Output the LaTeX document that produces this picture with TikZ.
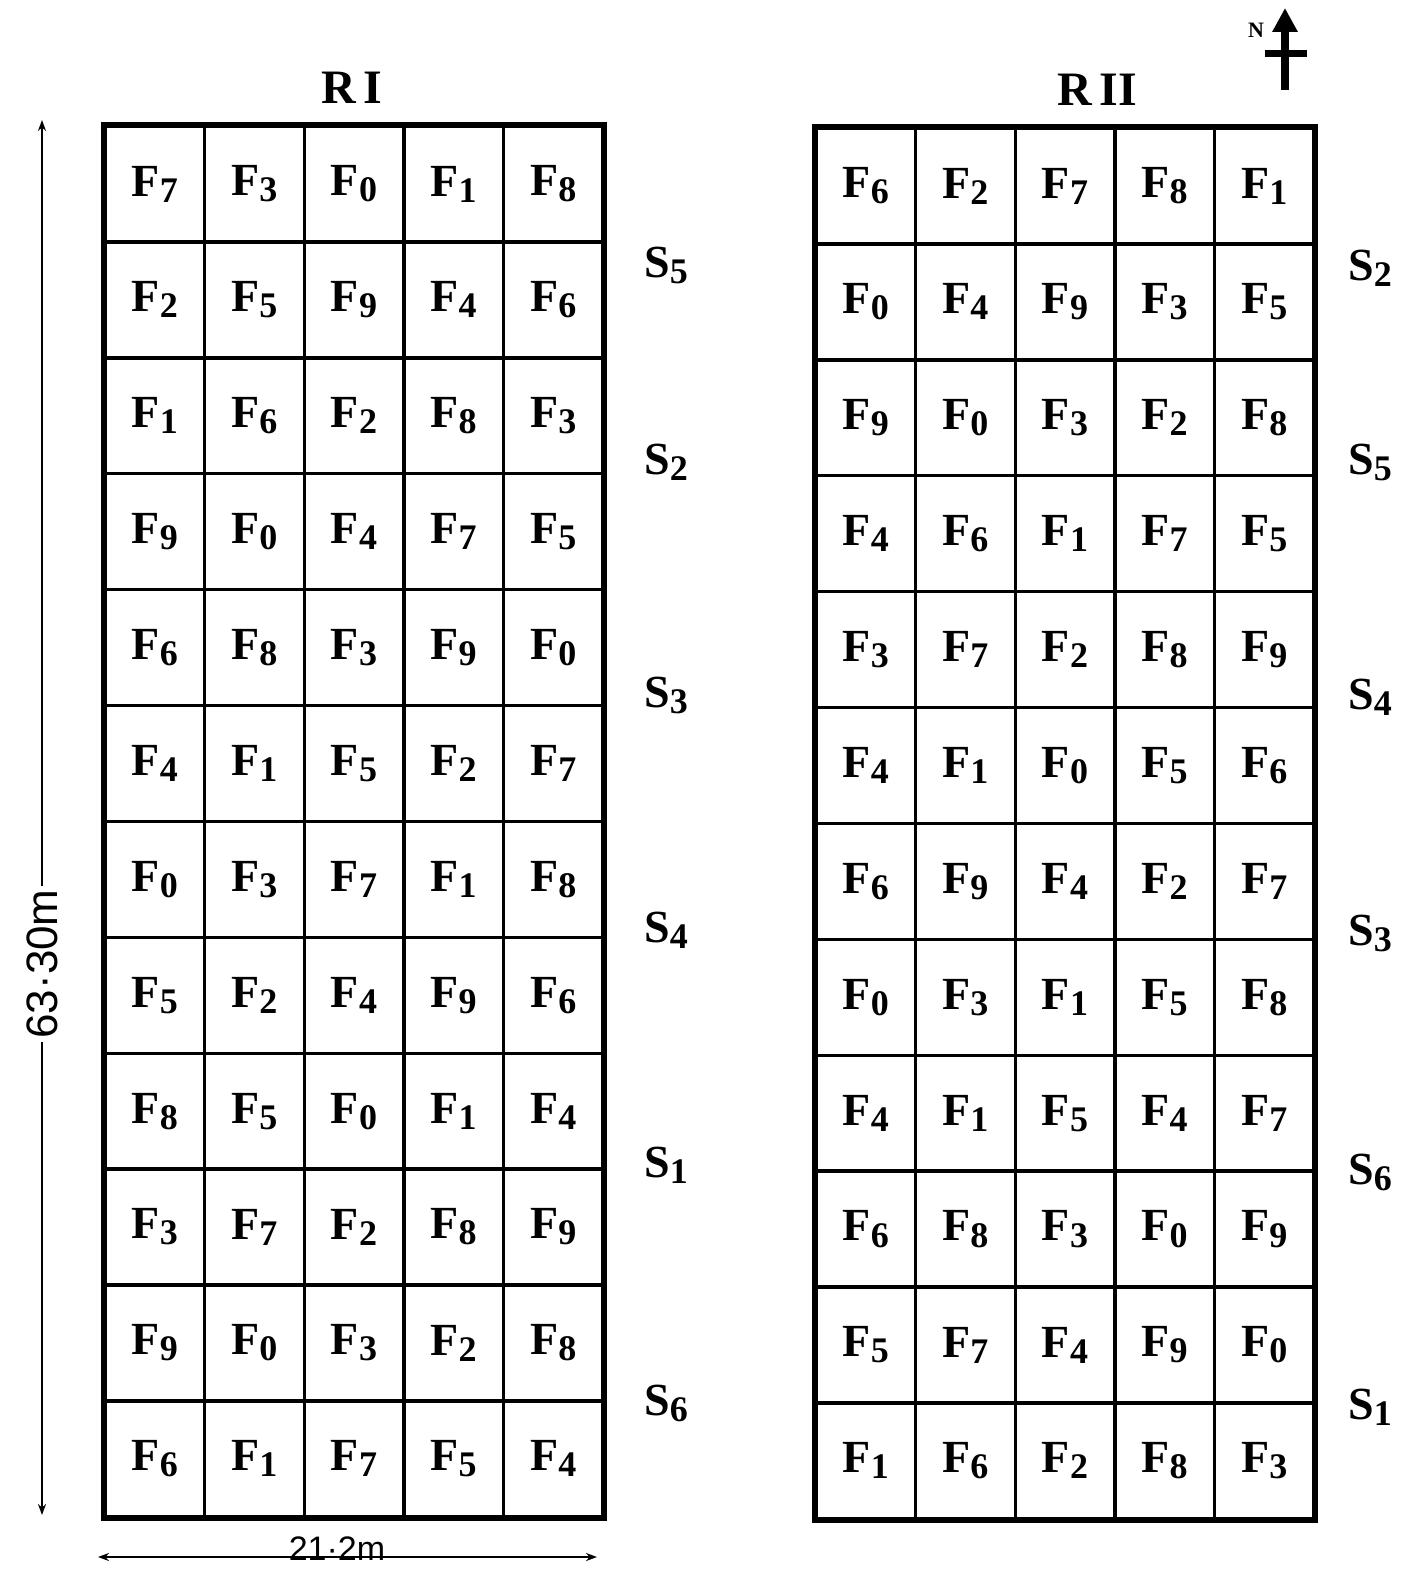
\documentclass[tikz,border=0pt]{standalone}
\usepackage{fontspec}
\setmainfont{Liberation Serif}
\setsansfont{Liberation Sans}
\usetikzlibrary{arrows.meta}
\newcommand{\plotlbl}[2]{#1\lower6pt\hbox{\fontsize{36}{36}\selectfont #2}}

\begin{document}
\begin{tikzpicture}[x=1pt,y=-1pt,
      cell/.style={draw,line width=3.4pt,minimum width=99.6pt,minimum height=115.9pt,
                   inner sep=0pt,font=\fontsize{46}{46}\bfseries\selectfont},
      frame/.style={line width=5pt},
      slbl/.style={font=\fontsize{46}{46}\bfseries\selectfont},
      title/.style={font=\fontsize{48}{48}\bfseries\selectfont},
      dim/.style={line width=2.6pt,{Stealth[length=11pt,width=8pt]}-{Stealth[length=11pt,width=8pt]}},
      dimlbl/.style={font=\fontsize{44}{44}\sffamily\selectfont}]
    \useasboundingbox (0,0) rectangle (1404,1570);
    % replication I
    \def\repa{{7,3,0,1,8, 2,5,9,4,6, 1,6,2,8,3, 9,0,4,7,5, 6,8,3,9,0, 4,1,5,2,7,
                0,3,7,1,8, 5,2,4,9,6, 8,5,0,1,4, 3,7,2,8,9, 9,0,3,2,8, 6,1,7,5,4}}
    % replication II
    \def\repb{{6,2,7,8,1, 0,4,9,3,5, 9,0,3,2,8, 4,6,1,7,5, 3,7,2,8,9, 4,1,0,5,6,
                6,9,4,2,7, 0,3,1,5,8, 4,1,5,4,7, 6,8,3,0,9, 5,7,4,9,0, 1,6,2,8,3}}
    \foreach \r in {0,...,11}
      \foreach \c in {0,...,4} {
        \pgfmathtruncatemacro{\fa}{\repa[\r*5+\c]}
        \pgfmathtruncatemacro{\fb}{\repb[\r*5+\c]}
        \node[cell] (a-\r-\c) at (154.8+\c*99.6,184+\r*115.9) {\plotlbl{F}{\fa}};
        \node[cell] (b-\r-\c) at (865.8+\c*99.6,186+\r*115.9) {\plotlbl{F}{\fb}};
      }
    \draw[frame] (a-0-0.north west) rectangle (a-11-4.south east);
    \draw[frame] (b-0-0.north west) rectangle (b-11-4.south east);
    \node[title] (ra) at (352,88) {R\,I};
    \node[title] (rb) at (1097,90) {R\,II};
    % strips
    \foreach \s/\y [count=\k] in {5/265,2/462,3/695,4/930,1/1165,6/1403}
      \node[slbl] (sa\k) at (666,\y) {\plotlbl{S}{\s}};
    \foreach \s/\y [count=\k] in {2/268,5/462,4/697,3/933,6/1172,1/1407}
      \node[slbl] (sb\k) at (1370,\y) {\plotlbl{S}{\s}};
    % dimensions
    \coordinate (vt) at (42,120);
    \coordinate (vb) at (42,1515);
    \draw[dim] (vt) -- (vb) node[pos=0.605,fill=white,rotate=90,dimlbl] (len) {63·30m};
    \coordinate (hl) at (98,1557);
    \coordinate (hr) at (597,1557);
    \draw[dim] (hl) -- (hr);
    \node[dimlbl,font=\fontsize{34}{34}\sffamily\selectfont] (wid) at (337,1549) {21·2m};
    % north
    \coordinate (ns) at (1285,90);
    \coordinate (nn) at (1285,8);
    \draw[line width=8pt,-{Triangle[length=24pt,width=24pt]}] (ns) -- (nn);
    \draw[line width=7pt] (1265,54) -- (1307,54);
    \node[font=\fontsize{22}{22}\bfseries\selectfont] (nl) at (1256,30) {N};
  \end{tikzpicture}
\end{document}
